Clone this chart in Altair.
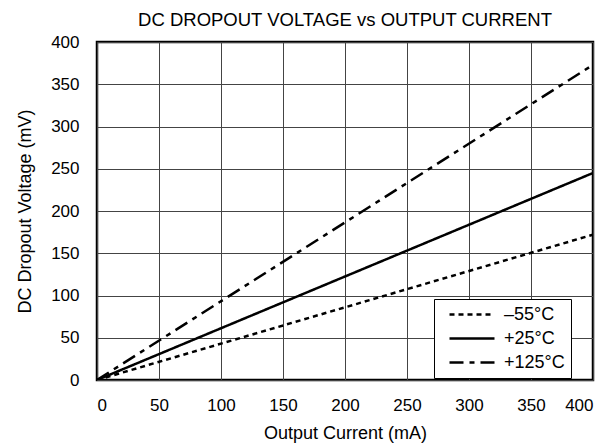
import altair as alt
import pandas as pd

# data
series = ["–55°C", "+25°C", "+125°C"]
current_ma = [0, 400]
v_m55 = [0, 172]
v_p25 = [0, 245]
v_p125 = [0, 373]

rows = []
for name, vals in zip(series, [v_m55, v_p25, v_p125]):
    for x, y in zip(current_ma, vals):
        rows.append({"Temperature": name, "Current": x, "Voltage": y})
df = pd.DataFrame(rows)

FONT = "Liberation Sans"

chart = alt.Chart(df).mark_line(color="black", strokeWidth=2.5, clip=True).encode(
    x=alt.X("Current:Q",
            scale=alt.Scale(domain=[0, 400], nice=False),
            axis=alt.Axis(values=list(range(0, 401, 50)), title="Output Current (mA)",
                          labelPadding=17,
                          titleX=248, titleY=53, titleBaseline="middle", titleAlign="center")),
    y=alt.Y("Voltage:Q",
            scale=alt.Scale(domain=[0, 400], nice=False),
            axis=alt.Axis(values=list(range(0, 401, 50)), title="DC Dropout Voltage (mV)",
                          labelPadding=18,
                          titleX=-71.5, titleY=169, titleBaseline="middle", titleAlign="center")),
    strokeDash=alt.StrokeDash(
        "Temperature:N",
        scale=alt.Scale(domain=series, range=[[5, 4], [1, 0], [14, 6, 5, 6]]),
        legend=alt.Legend(title=None, orient="none", legendX=337, legendY=257,
                          symbolType="M-1,0L4.625,0", symbolSize=256, symbolStrokeWidth=2.5,
                          symbolStrokeColor="black", strokeColor="black", fillColor="white",
                          padding=6, symbolOffset=8, rowPadding=5,
                          labelFontSize=18, labelFont=FONT,
                          labelColor="black", labelOffset=37),
    ),
    order=alt.Order("Current:Q"),
).properties(
    width=496,
    height=338,
    title=alt.TitleParams("DC DROPOUT VOLTAGE vs OUTPUT CURRENT", fontSize=18.5, font=FONT,
                          fontWeight="normal", color="black", anchor="middle", offset=4),
    autosize=alt.AutoSizeParams(type="none"),
    padding={"left": 89, "top": 34, "right": 6, "bottom": 66},
).configure_view(
    stroke="black", strokeWidth=2.5
).configure_axis(
    grid=True, gridColor="#444444", gridWidth=1, gridOpacity=1,
    domain=False, ticks=False,
    labelFont=FONT, labelFontSize=17, labelColor="black",
    titleFont=FONT, titleFontSize=18, titleFontWeight="normal", titleColor="black",
)

chart.save("out.html", embed_options={"renderer": "svg", "actions": False})
